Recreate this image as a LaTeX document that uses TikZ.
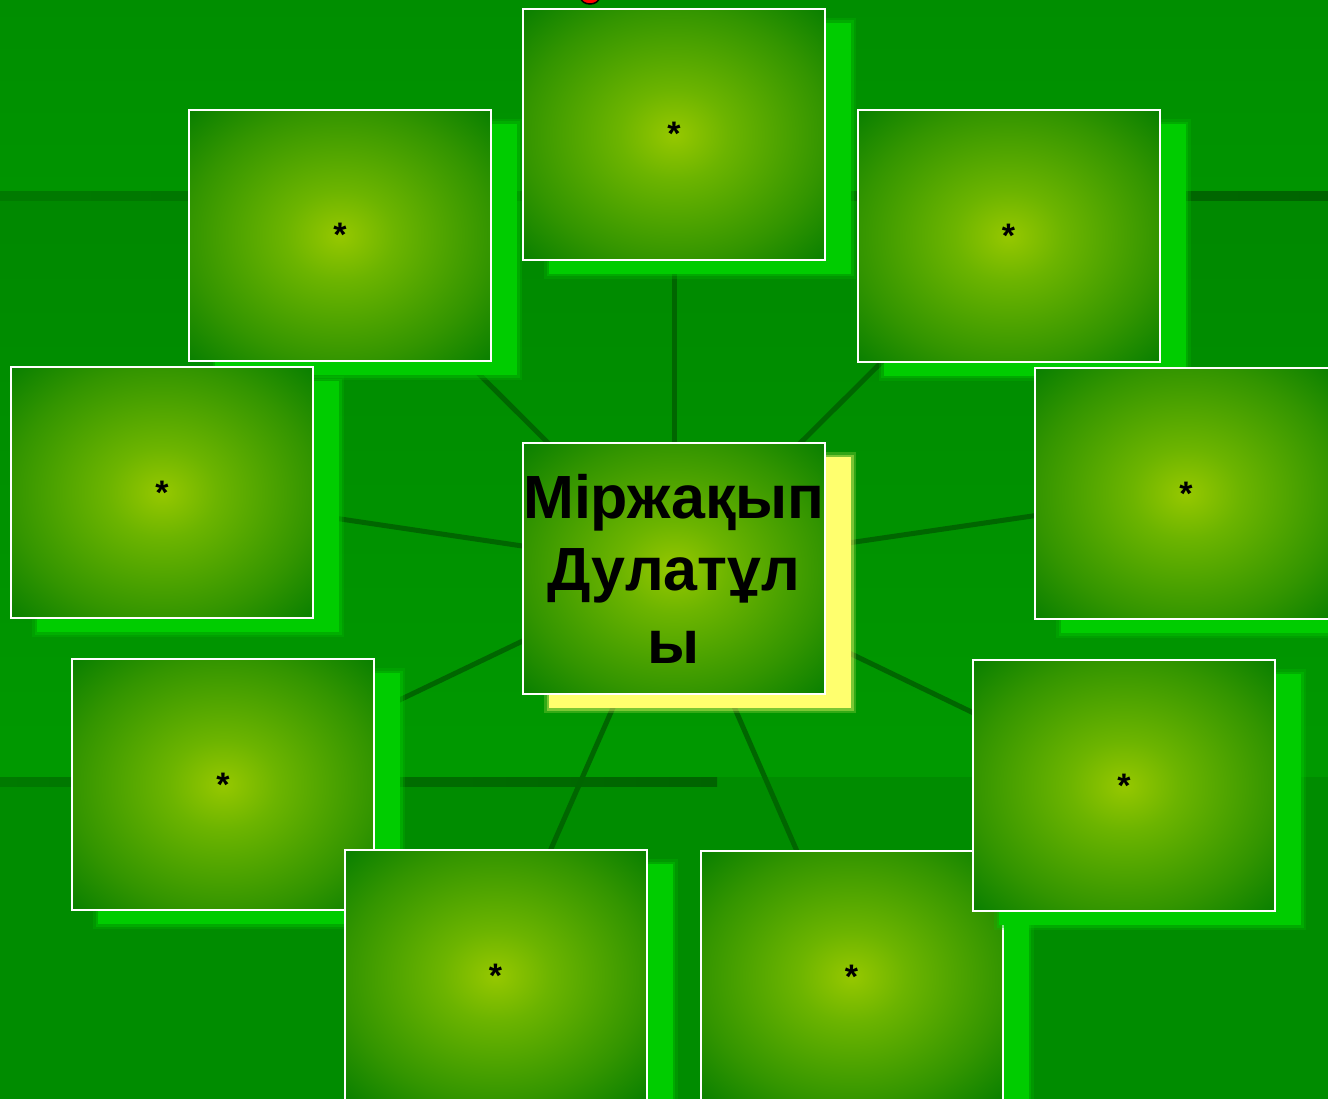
\documentclass[tikz,border=0pt]{standalone}
\usepackage{fontspec}
\setmainfont{Liberation Sans}
\usetikzlibrary{backgrounds}

\definecolor{bgtop}{HTML}{008E00}
\definecolor{bgtopdown}{HTML}{009400}
\definecolor{bgmid}{HTML}{008800}
\definecolor{bgmiddown}{HTML}{009900}
\definecolor{bglow}{HTML}{008C00}
\definecolor{bandleft}{HTML}{007A00}
\definecolor{bandright}{HTML}{006400}
\definecolor{spokegreen}{HTML}{006600}
\definecolor{shadowgreen}{HTML}{00CC00}
\definecolor{shadowyellow}{HTML}{FFFF6E}
\definecolor{glowin}{HTML}{96C800}
\definecolor{glowmid}{HTML}{6CB400}
\definecolor{glowout}{HTML}{339500}
\definecolor{glowcorner}{HTML}{0A8000}

\pgfdeclareradialshading{cardglow}{\pgfpoint{0bp}{0bp}}{%
  color(0bp)=(glowin); color(9bp)=(glowmid); color(25bp)=(glowout);
  color(35bp)=(glowcorner); color(50bp)=(glowcorner)}

\begin{document}
\begin{tikzpicture}[x=1pt, y=-1pt]
    % settings
    \tikzset{
      card/.style={rectangle, draw=white, line width=2pt, shading=cardglow,
        minimum width=302pt, minimum height=251pt, inner sep=0pt,
        font=\fontsize{34}{40}\selectfont\bfseries, text height=23pt, text depth=0pt,
        preaction={draw=#1, line width=10pt, opacity=.2,
          transform canvas={shift={(26pt,-14pt)}}},
        preaction={draw=#1, line width=5pt, opacity=.35,
          transform canvas={shift={(26pt,-14pt)}}},
        preaction={fill=#1, transform canvas={shift={(26pt,-14pt)}}}},
      card/.default=shadowgreen,
      hub/.style={card=shadowyellow, align=center, text width=302pt,
        text height={}, text depth={},
        font=\fontsize{61}{72.5}\selectfont\bfseries},
      spoke/.style={draw=spokegreen, line width=5pt},
    }

    \useasboundingbox (0,0) rectangle (1328,1099);

    % boxes
    \node[card] (c1) at (674,134.5) {*};
    \node[card] (c2) at (340,235.5) {*};
    \node[card] (c3) at (1008.5,236) {*};
    \node[card] (c4) at (162,492.5) {*};
    \node[card] (c5) at (1186,493.5) {*};
    \node[card] (c6) at (223,784.5) {*};
    \node[card] (c8) at (495.5,975.5) {*};
    \node[card] (c9) at (851.5,976.5) {*};
    \node[card] (c7) at (1124,785.5) {*};
    \node[hub] (c0) at (674,568.5) {Міржақып\\Дулатұл\\ы};

    % red mark cut by the top edge
    \draw[black, line width=1.5pt, fill=red] (590,-2) ellipse (9 and 6);

    % ground and spokes
    \begin{pgfonlayer}{background}
      \fill[top color=bgtop, bottom color=bgtopdown] (0,0) rectangle (1328,192);
      \fill[top color=bgmid, bottom color=bgmiddown] (0,192) rectangle (1328,777);
      \fill[bglow] (0,777) rectangle (1328,1099);
      \fill[left color=bandleft, right color=bandright] (0,192) rectangle (1328,201);
      \fill[left color=bandleft, right color=bandright] (0,777) rectangle (717,786);
      \foreach \n in {1,...,9}
        \draw[spoke] (c0.center) -- (c\n.center);
    \end{pgfonlayer}

\end{tikzpicture}
\end{document}
